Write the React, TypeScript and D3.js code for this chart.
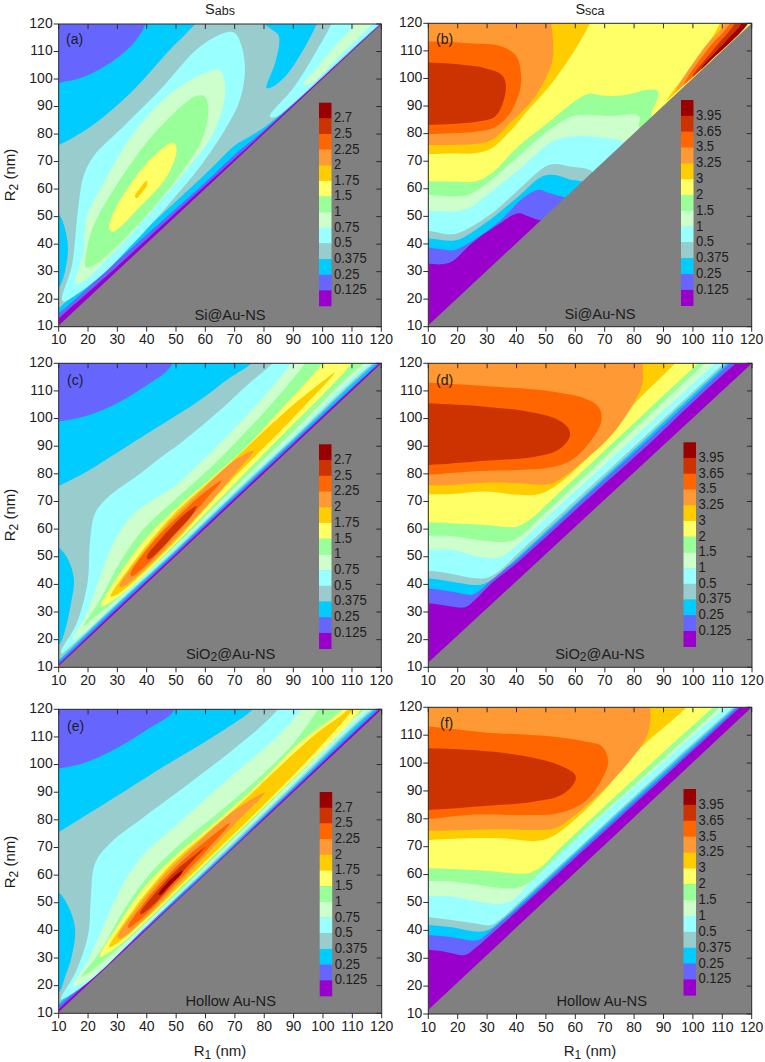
import React from 'react';
import * as d3 from 'd3';

type P = [number, number];
type Layer = [number, P[]];

const bandColors = ['#9900cc', '#6666ff', '#00ccff', '#99cccc', '#99ffff', '#ccffcc', '#99ff99', '#ffff66', '#ffcc00', '#ff9933', '#ff6600', '#cc3300', '#990000'];
const absLabels = ['2.7', '2.5', '2.25', '2', '1.75', '1.5', '1', '0.75', '0.5', '0.375', '0.25', '0.125'];
const scaLabels = ['3.95', '3.65', '3.5', '3.25', '3', '2', '1.5', '1', '0.5', '0.375', '0.25', '0.125'];
const axisTicks = [10, 20, 30, 40, 50, 60, 70, 80, 90, 100, 110, 120];

const layersA: Layer[] = [
  [1, [[0, 3], [10, 13], [30, 32], [60, 61.3], [80, 80.8], [120, 120.3], [130, 130], [130, 135], [0, 135]]],
  [2, [[0, 8], [10, 15], [30, 34], [60, 62.5], [70, 72.5], [80, 81.4], [120, 120.4], [130, 130.2], [130, 135], [45, 135], [39.7, 120], [35.5, 113], [27.5, 105.8], [18.4, 100.7], [10, 98.6], [0, 97]]],
  [3, [[5, 12], [5, 20], [10, 24], [12.5, 32], [13, 41], [10, 51], [5, 54], [5, 74], [10, 76], [18.4, 80.9], [27.5, 88.2], [37.7, 98.5], [46.8, 109.4], [56.5, 120], [60, 125], [78, 125], [80.3, 120], [84.9, 116], [85.2, 113], [83.8, 105.8], [80.9, 96.7], [82.6, 97], [87.7, 101.5], [93.4, 110.6], [98, 120], [100, 125], [125, 125], [120, 120.5], [90, 91], [80, 82.4], [75, 79], [70, 75.8], [60, 65.5], [30, 36], [10, 16.7]]],
  [4, [[11.1, 20.3], [14.4, 31.8], [16.7, 53.6], [18.4, 64.5], [21.8, 71.8], [33.2, 83.9], [44.5, 96], [58.2, 111.8], [67.3, 117], [70.1, 116.7], [72.4, 111.8], [73.5, 103.3], [71.8, 92.4], [67.3, 82.7], [58.2, 68.2], [46.8, 53.6], [35.5, 40.3], [24.1, 28.2], [15, 20.9], [11.6, 19.1]]],
  [4, [[82, 86.4], [90, 96.7], [96.8, 108.2], [103, 120], [105, 125], [125, 125], [120, 120.6], [100, 101.2], [90, 91.3], [84, 86.2]]],
  [5, [[15.6, 25.8], [18.4, 36.7], [19.5, 50], [24, 59.7], [35.5, 80.3], [46.8, 93.6], [58.2, 101.5], [65, 103.3], [66.4, 99.7], [66.7, 93.6], [62.7, 80.3], [53.6, 67], [41, 51.2], [27.5, 35.5], [17.3, 25.8]]],
  [5, [[93.3, 98], [98, 104], [105, 113], [111, 120], [113, 125], [122, 125], [117, 120], [105, 107.5], [96, 98.3]]],
  [6, [[19.1, 31.8], [19.2, 35.5], [21.8, 46.4], [35.5, 70.6], [46.8, 85], [57, 93.9], [59.9, 93.6], [61, 88.8], [58.8, 77.9], [49.1, 62.1], [35.5, 45.2], [23, 33], [19.8, 31.5]]],
  [7, [[27.3, 45.2], [28.6, 51.2], [35.5, 63.3], [43.4, 73], [49.1, 76.9], [50.2, 74.2], [46.8, 64.5], [37.7, 53.6], [28.6, 44.5]]],
  [8, [[36, 57.3], [37.7, 60.3], [40, 63], [40.2, 61.5], [38.3, 58.7], [36.6, 56.7]]],
];

const layersB: Layer[] = [
  [1, [[0, 32.5], [10, 32.8], [14.5, 32.6], [18, 33.6], [24.7, 40.2], [32.7, 46.3], [40.6, 51.1], [44, 50], [47.4, 48.8], [60, 50], [130, 125], [130, 135], [0, 135]]],
  [2, [[0, 38.5], [10, 38.7], [15, 38], [19, 37.8], [27, 42.5], [35, 49], [42, 56.5], [47.4, 59.6], [51, 58.5], [55.4, 57.2], [65, 55], [130, 125], [130, 135], [0, 135]]],
  [3, [[0, 42.3], [10, 42], [18, 41.2], [21.3, 42], [29.3, 47.5], [40.6, 57.2], [48.5, 64.4], [53, 65], [58.8, 63.2], [62.5, 62.6], [70, 58], [130, 125], [130, 135], [0, 135]]],
  [4, [[0, 44.8], [10, 44.7], [18, 43.5], [22.5, 45], [31.5, 51], [40.6, 59.6], [49.7, 68], [53, 69], [58.8, 68], [65, 66.8], [72, 60], [130, 125], [130, 135], [0, 135]]],
  [5, [[0, 52], [10, 52], [18, 51.7], [23.6, 52.9], [29.3, 57.2], [40.6, 66.8], [52, 77], [57.6, 78.9], [65.6, 79], [74.6, 77.7], [76.3, 76.7], [82, 68], [130, 125], [130, 135], [0, 135]]],
  [6, [[0, 57.8], [10, 57.8], [18, 57.2], [23.6, 57.8], [29.3, 61.4], [40.6, 71.7], [52, 82], [58.8, 86.2], [63.3, 86.8], [72.4, 86.4], [80.3, 87], [82, 85.6], [81.7, 82.5], [90, 78], [130, 125], [130, 135], [0, 135]]],
  [7, [[0, 62.6], [10, 62.6], [18, 62.6], [25.9, 62.6], [31.5, 65.6], [40.6, 75.3], [52, 85], [58.8, 91], [64.4, 94.4], [70, 93.7], [76.9, 94], [84.8, 95.9], [88, 95.6], [88.2, 93.4], [86, 86.2], [95, 78], [130, 125], [130, 135], [0, 135]]],
  [8, [[0, 72.6], [10, 72.6], [18, 72.9], [25.9, 72.9], [31.5, 74.7], [37.2, 80.1], [44, 88.6], [52, 98.3], [59.9, 110.4], [65, 120], [67, 125], [67, 135], [0, 135]]],
  [8, [[91, 91.3], [100, 105], [109.2, 120], [110, 125], [130, 125], [130, 120], [92, 91]]],
  [9, [[0, 75.9], [10, 75.9], [18, 75.9], [25.9, 76.2], [31.5, 77.7], [38.3, 84.4], [46.3, 93.4], [52, 105.5], [52.5, 112.8], [51.8, 120], [51.5, 125], [51, 135], [0, 135]]],
  [9, [[94, 94.5], [103, 110], [110.9, 120], [112, 125], [130, 125], [130, 120], [95, 94.3]]],
  [10, [[0, 79.8], [10, 79.8], [18, 80.1], [25.9, 80.7], [32.7, 82.3], [37.8, 87.4], [41.2, 95.9], [41.5, 101.9], [40, 108], [35, 111.6], [23.6, 112.8], [10, 113.4], [0, 113.5]]],
  [10, [[97, 97.5], [105, 110.5], [112.6, 120], [114, 125], [130, 125], [130, 120], [98, 97.3]]],
  [11, [[0, 83.1], [10, 83.2], [18, 83.5], [27, 84.4], [32.7, 86.2], [36, 93.4], [36.3, 98.3], [35, 101.3], [29.3, 103.7], [18, 105.3], [10, 105.8], [0, 106]]],
  [11, [[100, 100.7], [107, 110.5], [114.3, 120], [116, 125], [130, 125], [130, 120], [101, 100.5]]],
  [12, [[103, 103.5], [110.8, 113], [116.6, 120], [118, 125], [130, 125], [130, 120], [104, 103.4]]],
  [7, [[90, 90.05], [105, 105.4], [118.8, 120], [120, 124], [130, 125], [130, 120], [90.5, 89.8]]],
];

const layersC: Layer[] = [
  [1, [[0, 1], [10, 11], [30, 31.2], [50, 51], [70, 71.1], [90, 90.9], [119.4, 120], [130, 130], [130, 135], [0, 135]]],
  [2, [[0, 2], [10, 11.8], [30, 32], [50, 51.7], [70, 71.8], [90, 91.6], [119, 120], [130, 130.4], [130, 135], [52, 135], [49, 120], [37.7, 110.4], [27.5, 104.3], [18.4, 100.7], [10, 98.9], [0, 97]]],
  [3, [[5, 8], [5, 16], [10, 18], [12.2, 23.5], [14.4, 34.4], [15.2, 41.6], [13.3, 48.8], [10, 53.4], [5, 56], [5, 73], [10, 75.6], [19.5, 80.8], [33.2, 89.9], [46.8, 98.9], [58.2, 106.7], [67.3, 114], [75.8, 120], [80, 125], [125, 125], [118, 120], [90, 92.3], [70, 72.5], [50, 52.3], [30, 32.8], [10, 12.6]]],
  [4, [[10.8, 15.7], [16.1, 25.9], [19.8, 40.4], [20.7, 56], [22.4, 65.7], [26.4, 71.2], [37.7, 80], [46.8, 87.5], [51.4, 91], [63.9, 102], [75.2, 113], [83, 120], [87, 125], [125, 125], [117.2, 120], [90, 93], [70, 73.2], [50, 52.8], [30, 33.3], [15, 18.5], [11, 15]]],
  [5, [[14.8, 20.5], [19, 28.3], [24.1, 42.8], [28.6, 54.9], [35.5, 65.5], [50, 76], [58.2, 84], [69.5, 96], [80, 108], [89.4, 120], [93, 125], [125, 125], [116, 120], [90, 94], [70, 74], [50, 53.5], [30, 34], [18, 22], [15, 20]]],
  [6, [[18.4, 24.7], [24.1, 34.4], [30.9, 48], [38.9, 60], [50, 71], [60.5, 81], [71.8, 93], [83.2, 106], [94, 120], [97, 125], [125, 125], [114.4, 120], [90, 95.2], [70, 75], [50, 54.2], [30, 34.8], [21, 27]]],
  [7, [[24.4, 32], [30.9, 44], [40, 57], [50, 67.5], [62.7, 79], [74.1, 90], [85.5, 103], [100, 120], [103, 125], [113, 125], [109.9, 120], [100, 108.5], [90, 98], [70, 76.5], [50, 55], [35, 39.5], [26, 32.5]]],
  [8, [[27.7, 35.6], [35.5, 48], [43.4, 58.5], [50, 66.3], [60, 76], [70, 85.5], [80, 95.5], [90, 105], [97, 111], [104.2, 116.7], [93.3, 104], [80, 89.5], [70, 79], [60, 67.5], [50, 55.8], [40, 45.5], [30, 36.4]]],
  [9, [[30.7, 39.2], [37.7, 50], [46.8, 61.5], [50, 65], [58.2, 73.5], [69.5, 84.5], [76.4, 88.3], [70, 80], [60, 67.8], [50, 56.8], [40, 46.2], [32, 39.2]]],
  [10, [[34.5, 43.8], [41.1, 54], [50, 63.8], [59.3, 73], [65.6, 77.6], [60, 70.5], [50, 58.3], [40, 47.2], [35, 43]]],
  [11, [[40, 50], [44, 55.5], [50, 62.5], [53, 65.5], [57, 68.3], [55, 64.5], [50, 58.8], [45, 53], [40.5, 49]]],
];

const layersD: Layer[] = [
  [1, [[0, 33], [10, 33.2], [16.8, 32.2], [22.5, 31.7], [25.9, 34.4], [31.5, 40.4], [40.6, 48.2], [63, 69.8], [86, 91.8], [100, 106], [114.5, 120], [120, 125], [130, 135], [0, 135]]],
  [2, [[0, 38.6], [10, 38.5], [17.9, 37.4], [24.7, 36.2], [27, 37.4], [32.6, 42.8], [40.6, 49.4], [63, 71.4], [86, 93.6], [112.5, 120], [118, 125], [130, 135], [0, 135]]],
  [3, [[0, 42.4], [10, 42.2], [17.9, 41], [27, 39.8], [30.4, 41], [34.9, 44.6], [40.6, 50], [63, 72.1], [86, 94.8], [111.5, 120], [117, 125], [130, 135], [0, 135]]],
  [4, [[0, 45], [10, 44.9], [17.9, 43.8], [25.9, 42.2], [29.3, 42.2], [33.8, 44.6], [40.6, 51.3], [63, 73.3], [86, 95.9], [110.5, 120], [116, 125], [130, 135], [0, 135]]],
  [5, [[0, 52.5], [10, 52.5], [17.9, 52.5], [27, 50], [34.3, 49.8], [38.3, 52.5], [46.2, 60.3], [68.9, 82.4], [91.5, 104.4], [107.5, 120], [113, 125], [130, 135], [0, 135]]],
  [6, [[0, 57.6], [10, 57.6], [17.9, 57.5], [27, 56.1], [37.2, 55.5], [41.7, 57.9], [48.5, 64.5], [70, 86], [85, 101], [104, 120], [109, 125], [130, 135], [0, 135]]],
  [7, [[0, 62.5], [10, 62.5], [17.9, 62.1], [29.3, 61.5], [40, 60.9], [45.1, 63.9], [51.9, 70.6], [70, 88.5], [85, 103.5], [101.8, 120], [107, 125], [130, 135], [0, 135]]],
  [8, [[0, 72.6], [10, 72.6], [17.9, 72.7], [29.3, 73.6], [40.6, 72.4], [47.4, 72.6], [53, 75.4], [59.8, 81.4], [68.9, 91.1], [80.2, 105.5], [93.9, 120], [98, 125], [100, 135], [0, 135]]],
  [9, [[0, 75.8], [10, 75.9], [17.9, 76], [29.3, 76.8], [40.6, 76.6], [50.8, 76.2], [55.3, 78.4], [63.2, 85], [72.3, 94.1], [79.1, 104.3], [82.8, 112.8], [82.8, 120], [83, 125], [83, 135], [0, 135]]],
  [10, [[0, 79.6], [10, 79.7], [23.6, 80.8], [40.6, 81.4], [51.9, 82.4], [58.7, 85], [65.5, 92.3], [68.9, 99.5], [67.8, 104.3], [63.2, 107.3], [51.9, 109.8], [29.3, 111.8], [10, 113], [0, 113.5]]],
  [11, [[0, 83], [10, 83.2], [29.3, 84.7], [46.2, 86.2], [54.2, 88.7], [58.1, 93.5], [57.6, 96.5], [53, 100.1], [43.9, 102.5], [29.3, 104.3], [10, 105.5], [0, 106]]],
];

const layersE: Layer[] = [
  [1, [[0, 1.5], [10, 11.5], [30, 31], [60, 60.6], [90, 90.8], [119.5, 120.3], [130, 130], [130, 135], [0, 135]]],
  [2, [[0, 2.5], [10, 12.6], [30, 32], [60, 61], [90, 91.4], [119, 120.5], [130, 130.5], [130, 135], [52, 135], [49.6, 120], [39.9, 112.5], [29.7, 105.9], [18.4, 100.5], [10, 98.6], [0, 97]]],
  [3, [[5, 8], [5, 15.5], [10, 17.5], [12.2, 23.3], [14.4, 30.5], [15.6, 40.2], [13.3, 48.6], [10, 53.7], [5, 56], [5, 73], [10, 75.6], [19.5, 81.8], [33.1, 90.8], [46.7, 99.9], [58.1, 107.1], [67.1, 113.1], [76.2, 120], [80, 125], [125, 125], [118, 120.4], [90, 92], [60, 61.5], [30, 32.6], [10, 13.5]]],
  [4, [[10.8, 15.4], [16.1, 25.7], [20.1, 38.9], [20.9, 51], [22.4, 64.3], [27.5, 71.5], [39, 81], [53.6, 92.5], [67.1, 103.5], [78, 113], [84.7, 120], [88, 125], [125, 125], [116.8, 120], [90, 92.8], [60, 62], [40, 41.5], [20, 21.2], [11, 15]]],
  [5, [[14.8, 19.9], [19.5, 28.1], [25.2, 41.4], [29.7, 52.2], [37.7, 66], [50, 78], [62.6, 90], [76.2, 102.5], [85, 110.7], [92.7, 120], [96, 125], [125, 125], [115.6, 120], [90, 93.6], [60, 62.6], [40, 42.2], [20, 22]]],
  [6, [[17.8, 23.3], [24.1, 32.3], [32, 47], [39.9, 59], [50, 70], [64.9, 83], [78.5, 95.5], [89.8, 107.5], [98.3, 120], [101, 125], [125, 125], [114.4, 120], [90, 94.5], [60, 63.3], [40, 43], [25, 28.6]]],
  [7, [[24.1, 30.5], [30.9, 43], [39.9, 56.5], [50, 67.2], [63.7, 79.5], [78.5, 93.5], [92.1, 108], [106.8, 120], [110, 125], [116, 125], [113, 120], [100, 105.5], [80, 84.7], [60, 64.2], [50, 54], [40, 43.7], [30, 34.2]]],
  [8, [[27.2, 33.9], [35.4, 47.5], [44.5, 59.5], [50, 65.7], [60, 75], [70, 84], [83, 97], [97.8, 111.3], [108.5, 120], [111, 125], [113, 125], [110.2, 120], [100, 107.5], [80, 85.5], [60, 65], [50, 54.8], [40, 44.5], [30, 35.4]]],
  [9, [[30.1, 37.5], [37.7, 49.5], [46.7, 61], [50, 64.5], [58.1, 72.5], [69.4, 83], [80.2, 89.9], [70, 78.5], [60, 67], [50, 56], [40, 45], [31, 37]]],
  [10, [[33.5, 41.1], [39.9, 51], [50, 63], [60.3, 72.5], [68.3, 78.8], [60, 68.5], [50, 57.2], [40, 46], [34, 41]]],
  [11, [[37.7, 46.2], [44.5, 55.5], [50, 61.8], [56, 67], [60, 70.3], [55, 64.5], [48, 56], [42, 49], [38, 45.8]]],
  [12, [[44, 53], [48, 58.3], [52.2, 61.7], [51.5, 60], [48, 56.5], [44.5, 52.7]]],
];

const layersF: Layer[] = [
  [1, [[0, 33], [10, 33], [16.8, 32.1], [22.5, 31.2], [25.9, 33.6], [30, 37.3], [35, 42], [40.6, 47.3], [63, 68.9], [86, 91], [116, 120], [121, 125], [130, 135], [0, 135]]],
  [2, [[0, 38.4], [10, 38.3], [17.9, 37.5], [25.3, 36.3], [27.6, 36.8], [32, 40.6], [36, 44.2], [40.6, 48.3], [63, 70], [86, 92], [115, 120], [120, 125], [130, 135], [0, 135]]],
  [3, [[0, 42], [10, 41.9], [17.9, 41.1], [27, 39.5], [30.4, 40.1], [35, 43.7], [40.6, 49], [63, 70.8], [86, 93], [114.5, 120], [120, 125], [130, 135], [0, 135]]],
  [4, [[0, 44.8], [10, 44.7], [17.9, 43.7], [27, 42.3], [31.5, 41.9], [35, 44.3], [40.6, 49.7], [63, 71.4], [86, 93.8], [113.7, 120], [119, 125], [130, 135], [0, 135]]],
  [5, [[0, 52.3], [10, 52.3], [17.9, 52.1], [27, 50.3], [35, 49.5], [38.9, 50.9], [46.3, 59.3], [70, 82], [90, 100.5], [110.9, 120], [116, 125], [130, 135], [0, 135]]],
  [6, [[0, 57.7], [10, 57.7], [17.9, 57.5], [27, 56.3], [39.5, 55.1], [44, 56.9], [49.7, 62.3], [70, 82.5], [90, 101.5], [109.2, 120], [114, 125], [130, 135], [0, 135]]],
  [7, [[0, 62.3], [10, 62.3], [17.9, 62], [29.3, 61.4], [44, 60.5], [48.5, 62.9], [54.2, 68.9], [70, 84.5], [90, 104], [106.9, 120], [112, 125], [130, 135], [0, 135]]],
  [8, [[0, 72.4], [10, 72.4], [23.6, 73], [34.9, 73], [47.4, 72.1], [53.1, 74.2], [61, 80.8], [70.1, 90.4], [80.3, 103.5], [97.9, 120], [102, 125], [104, 135], [0, 135]]],
  [9, [[0, 75.7], [10, 75.7], [23.6, 76], [34.9, 76.3], [46.3, 76], [53.1, 76.6], [59.9, 81.4], [69, 89.8], [78, 100], [84.3, 109.5], [85.6, 116.7], [85.4, 120], [85, 125], [85, 135], [0, 135]]],
  [10, [[0, 79.8], [10, 79.9], [23.6, 81.4], [40.6, 81.4], [54.2, 82], [63.3, 86.2], [69, 94], [71.2, 100.6], [69, 106], [63.3, 107.7], [51.9, 109.5], [29.3, 111], [10, 113.1], [0, 113.5]]],
  [11, [[0, 83], [10, 83.2], [29.3, 84.6], [46.3, 86.2], [55.4, 88.6], [59.9, 93.4], [59.9, 95.8], [54.2, 99.4], [40.6, 102.9], [27, 104.5], [10, 105.3], [0, 105.5]]],
];

const voidStart = [10.4, 10.5, 10.5, 11.7, 10.5, 11.5];
const panelLayers = [layersA, layersB, layersC, layersD, layersE, layersF];
const panelTags = ['(a)', '(b)', '(c)', '(d)', '(e)', '(f)'];

const font = '"Liberation Sans", Arial, sans-serif';
const ink = '#1c1c1c';

interface Box { x0: number; x1: number; y0: number; y1: number; barX: number; barY0: number; barY1: number; tagX: number; tagY: number; noteX: number; noteY: number }
const boxes: Box[] = [
  { x0: 58.7, x1: 381.3, y0: 24, y1: 326.7, barX: 319, barY0: 102.7, barY1: 306, tagX: 66, tagY: 40, noteX: 230, noteY: 316 },
  { x0: 428.3, x1: 751.7, y0: 23.3, y1: 326.7, barX: 681, barY0: 100, barY1: 305.7, tagX: 436, tagY: 40, noteX: 600, noteY: 315 },
  { x0: 58.7, x1: 381.3, y0: 363.3, y1: 667.3, barX: 319, barY0: 444.3, barY1: 648.7, tagX: 67, tagY: 381, noteX: 230.7, noteY: 655 },
  { x0: 428.3, x1: 752, y0: 363.3, y1: 667.3, barX: 683.5, barY0: 442.3, barY1: 646.7, tagX: 436, tagY: 381, noteX: 600, noteY: 655 },
  { x0: 58.7, x1: 381.7, y0: 709.3, y1: 1013.3, barX: 319.7, barY0: 792, barY1: 996, tagX: 67, tagY: 727, noteX: 230.7, noteY: 1002 },
  { x0: 428.3, x1: 751.7, y0: 707.3, y1: 1014, barX: 683.5, barY0: 789, barY1: 995.3, tagX: 440, tagY: 724, noteX: 601.7, noteY: 1002 },
];

const Note = ({ i, x, y }: { i: number; x: number; y: number }) => {
  const sio2 = i === 2 || i === 3;
  const text = i < 2 ? 'Si@Au-NS' : i > 3 ? 'Hollow Au-NS' : null;
  return (
    <text x={x} y={y} textAnchor="middle" dominantBaseline="middle" fontFamily={font} fontSize={14.7} fill={ink}>
      {sio2 ? <>SiO<tspan fontSize={12} dy={3}>2</tspan><tspan dy={-3}>@Au-NS</tspan></> : text}
    </text>
  );
};

const Panel = ({ index }: { index: number }) => {
  const b = boxes[index];
  const x = d3.scaleLinear().domain([10, 120]).range([b.x0, b.x1]);
  const y = d3.scaleLinear().domain([10, 120]).range([b.y1, b.y0]);
  const line = d3.line<P>().x(d => x(d[0])).y(d => y(d[1])).curve(d3.curveCatmullRomClosed.alpha(0.5));
  const clipId = `clip-${index}`;
  const left = index % 2 === 0;
  const labels = left ? absLabels : scaLabels;
  const bandH = (b.barY1 - b.barY0) / bandColors.length;
  const bar = d3.scaleLinear().domain([0, bandColors.length]).range([b.barY0, b.barY1]);
  const stroke = '#2a2a2a';
  const voidPath = [[10, voidStart[index]], [120, 120], [120, 10], [10, 10]].map(p => `${x(p[0])},${y(p[1])}`).join(' ');
  return (
    <g>
      <clipPath id={clipId}><rect x={b.x0} y={b.y0} width={b.x1 - b.x0} height={b.y1 - b.y0} /></clipPath>
      <g clipPath={`url(#${clipId})`}>
        <rect x={b.x0} y={b.y0} width={b.x1 - b.x0} height={b.y1 - b.y0} fill={bandColors[0]} />
        {panelLayers[index].map(([c, pts], i) => (
          <path key={i} d={line(pts) || ''} fill={bandColors[c]} />
        ))}
        <polygon points={voidPath} fill="#808080" />
      </g>
      <rect x={b.x0} y={b.y0} width={b.x1 - b.x0} height={b.y1 - b.y0} fill="none" stroke={stroke} strokeWidth={1} />
      {axisTicks.map(t => (
        <g key={t} stroke={stroke} strokeWidth={1}>
          <line x1={x(t)} x2={x(t)} y1={b.y1} y2={b.y1 + 5} />
          <line x1={x(t)} x2={x(t)} y1={b.y0} y2={b.y0 + 5} />
          <line x1={b.x0} x2={b.x0 - 5} y1={y(t)} y2={y(t)} />
          <line x1={b.x1} x2={b.x1 - 5} y1={y(t)} y2={y(t)} />
        </g>
      ))}
      {axisTicks.map(t => (
        <text key={t} x={x(t)} y={b.y1 + 14} textAnchor="middle" dominantBaseline="middle" fontFamily={font} fontSize={14} fill={ink}>{t}</text>
      ))}
      {axisTicks.map(t => (
        <text key={t} x={b.x0 - 6} y={y(t)} textAnchor="end" dominantBaseline="middle" fontFamily={font} fontSize={14} fill={ink}>{t}</text>
      ))}
      {bandColors.slice().reverse().map((c, i) => (
        <rect key={c} x={b.barX} y={bar(i)} width={12.5} height={bandH + 0.3} fill={c} />
      ))}
      {labels.map((l, i) => (
        <text key={l} transform={`translate(${b.barX + 15},${bar(i + 1)}) scale(0.87,1)`} dominantBaseline="middle" fontFamily={font} fontSize={15} fill={ink}>{l}</text>
      ))}
      <text x={b.tagX} y={b.tagY} dominantBaseline="middle" fontFamily={font} fontSize={14} fill={ink}>{panelTags[index]}</text>
      <Note i={index} x={b.noteX} y={b.noteY} />
    </g>
  );
};

const YTitle = ({ cy }: { cy: number }) => (
  <text transform={`translate(15,${cy}) rotate(-90)`} textAnchor="middle" fontFamily={font} fontSize={15} fill={ink}>
    R<tspan fontSize={12} dy={3}>2</tspan><tspan dy={-3}> (nm)</tspan>
  </text>
);

const XTitle = ({ cx }: { cx: number }) => (
  <text x={cx} y={1056} textAnchor="middle" fontFamily={font} fontSize={15} fill={ink}>
    R<tspan fontSize={12} dy={3}>1</tspan><tspan dy={-3}> (nm)</tspan>
  </text>
);

const Head = ({ cx, sub }: { cx: number; sub: string }) => (
  <text x={cx} y={13.5} textAnchor="middle" fontFamily={font} fontSize={14.5} fill={ink}>
    S<tspan fontSize={12.5} dy={1.5}>{sub}</tspan>
  </text>
);

export default function App() {
  return (
    <svg width={765} height={1062} viewBox="0 0 765 1062" style={{ position: 'absolute', left: 0, top: 0, background: '#fff' }}>
      {boxes.map((_, i) => <Panel key={i} index={i} />)}
      <Head cx={220} sub="abs" />
      <Head cx={590} sub="sca" />
      <YTitle cy={175} />
      <YTitle cy={515} />
      <YTitle cy={862} />
      <XTitle cx={220} />
      <XTitle cx={590} />
    </svg>
  );
}
